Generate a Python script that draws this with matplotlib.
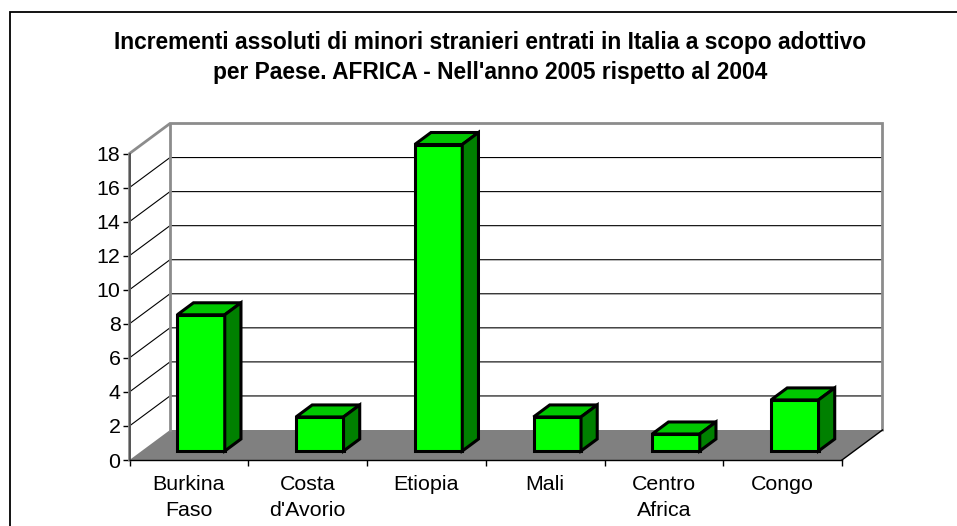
import matplotlib

matplotlib.use("Agg")
import matplotlib.pyplot as plt
from matplotlib.lines import Line2D
from matplotlib.patches import Polygon

countries = ["Burkina\nFaso", "Costa\nd'Avorio", "Etiopia", "Mali", "Centro\nAfrica", "Congo"]
increments = [8, 2, 18, 2, 1, 3]
y_ticks = list(range(0, 19, 2))

W, H = 957, 526
DEPTH_X = 40.5 / 118.75  # depth of the box, in categories
DEPTH_Y = 30 / 17.03  # depth of the box, in value units
BAR_WIDTH = 0.4
BAR_D0, BAR_D1 = 0.3, 0.7


def proj(x, y, d=0.0):
    return x + d * DEPTH_X, y + d * DEPTH_Y


def poly(ax, pts, **kw):
    ax.add_patch(Polygon([proj(*p) for p in pts], closed=True, clip_on=False, **kw))


plt.rcParams["font.family"] = ["Liberation Sans", "DejaVu Sans"]
fig = plt.figure(figsize=(W / 100, H / 100), dpi=100)
# chart frame is cropped: only the top and left edges show
fig.add_artist(Line2D([9.5 / W, 9.5 / W, 1], [0, 1 - 11.5 / H, 1 - 11.5 / H], transform=fig.transFigure,
                      color="black", lw=1.3, solid_joinstyle="miter"))
ax = fig.add_axes([129.5 / W, 1 - 460 / H, 712.5 / W, 306.5 / H])
ax.set_xlim(0, len(countries))
ax.set_ylim(0, 18)
ax.patch.set_visible(False)
n = len(countries)

# floor
poly(ax, [(0, 0, 0), (n, 0, 0), (n, 0, 1), (0, 0, 1)], fc="#808080", ec="none", zorder=1)
# gridlines, on side wall and back wall
for v in y_ticks[1:-1]:
    side = [proj(0, v, 0), proj(0, v, 1), proj(n, v, 1)]
    ax.plot(*zip(*side), color="black", lw=0.8, clip_on=False, zorder=1.5)
# walls outline
wall = [proj(0, 0, 0), proj(0, 18, 0), proj(0, 18, 1), proj(n, 18, 1), proj(n, 0, 1)]
ax.plot(*zip(*wall), color="#8c8c8c", lw=2, clip_on=False, zorder=2, solid_joinstyle="miter")
ax.plot(*zip(proj(0, 0, 1), proj(0, 18, 1)), color="#8c8c8c", lw=2, clip_on=False, zorder=2)

# bars
for i, val in enumerate(increments):
    x0 = i + 0.5 - BAR_WIDTH / 2
    x1 = x0 + BAR_WIDTH
    kw = dict(ec="black", lw=2.2, joinstyle="miter", zorder=3)
    poly(ax, [(x0, 0, BAR_D0), (x1, 0, BAR_D0), (x1, val, BAR_D0), (x0, val, BAR_D0)], fc="#00ff00", **kw)
    poly(ax, [(x0, val, BAR_D0), (x1, val, BAR_D0), (x1, val, BAR_D1), (x0, val, BAR_D1)], fc="#00c800", **kw)
    poly(ax, [(x1, 0, BAR_D0), (x1, 0, BAR_D1), (x1, val, BAR_D1), (x1, val, BAR_D0)], fc="#008000", **kw)

for side in ("top", "right"):
    ax.spines[side].set_visible(False)
ax.spines["left"].set_color("#505050")
ax.spines["left"].set_linewidth(1.3)
ax.spines["left"].set_zorder(2.5)
ax.spines["bottom"].set_color("black")
ax.spines["bottom"].set_linewidth(1)
ax.spines["bottom"].set_zorder(2.5)
ax.plot(*zip(proj(n, 0, 0), proj(n, 0, 1)), color="black", lw=1, clip_on=False, zorder=2.5)

ax.set_yticks(y_ticks)
ax.tick_params(axis="y", labelsize=15.4, length=5, width=1, pad=1.5)
ax.set_xticks(range(n + 1))
ax.set_xticklabels([])
ax.tick_params(axis="x", length=4.5, width=1)
for i, name in enumerate(countries):
    ax.annotate(name, (i + 0.5, 0), xytext=(0, -10.5), textcoords="offset points",
                ha="center", va="top", fontsize=15.4, linespacing=1.5)

fig.text(490.5 / W, 1 - 57.5 / H, "Incrementi assoluti di minori stranieri entrati in Italia a scopo adottivo\n"
         "per Paese. AFRICA - Nell'anno 2005 rispetto al 2004",
         ha="center", va="center", fontsize=16.4, fontweight="bold", linespacing=1.4)

fig.savefig("out.png", dpi=100)
